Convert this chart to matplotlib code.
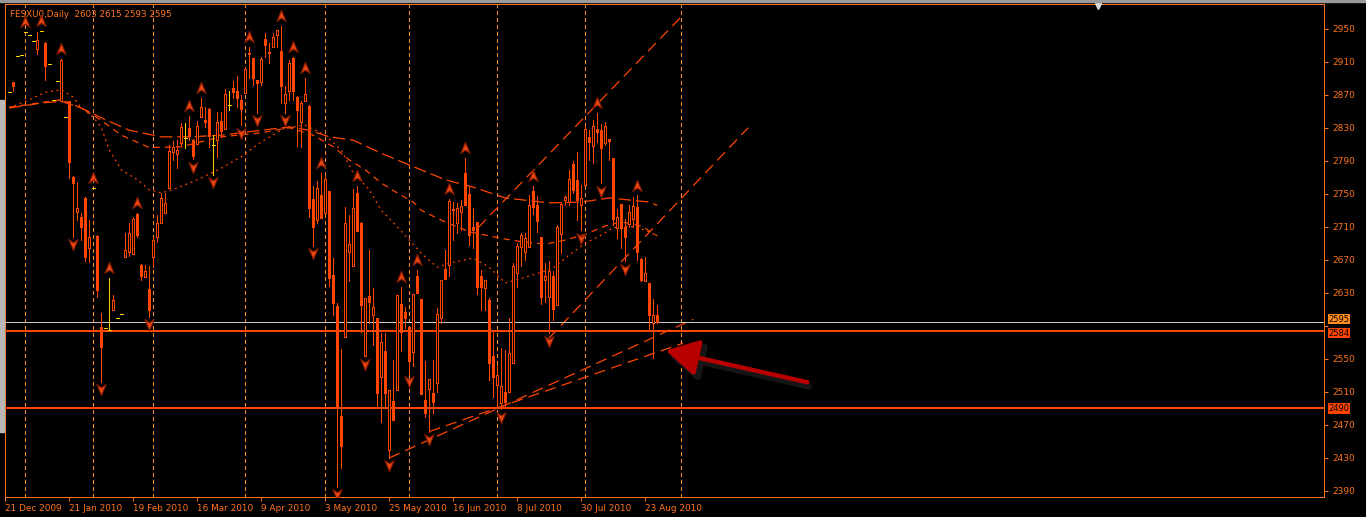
import matplotlib
matplotlib.use('Agg')
import matplotlib.pyplot as plt
import matplotlib.transforms as mtransforms
from matplotlib.path import Path
from matplotlib.patches import Rectangle
import numpy as np

# daily bars FESXU0 (bar 1 .. 163)
opens = [2873, 2885, 2917, 2918, 2946, 2942, 2935, 2925, 2947, 2933,
         2907, 2864, 2887, 2862, 2843, 2862, 2770, 2728, 2722, 2745,
         2684, 2757, 2699, 2589, 2587, 2585, 2609, 2600, 2604, 2673,
         2680, 2677, 2726, 2664, 2649, 2635, 2673, 2698, 2715, 2727,
         2757, 2801, 2798, 2812, 2818, 2830, 2815, 2810, 2843, 2839,
         2853, 2809, 2815, 2838, 2828, 2858, 2878, 2875, 2864, 2872,
         2921, 2914, 2888, 2886, 2937, 2922, 2928, 2942, 2923, 2860,
         2875, 2914, 2867, 2837, 2863, 2856, 2744, 2718, 2749, 2727,
         2753, 2652, 2614, 2481, 2577, 2680, 2663, 2751, 2715, 2553,
         2626, 2603, 2600, 2528, 2559, 2440, 2499, 2512, 2617, 2607,
         2589, 2558, 2650, 2623, 2500, 2514, 2509, 2521, 2600, 2659,
         2664, 2732, 2715, 2728, 2775, 2750, 2710, 2716, 2650, 2636,
         2621, 2553, 2518, 2497, 2510, 2510, 2545, 2654, 2686, 2680,
         2686, 2753, 2736, 2698, 2645, 2625, 2650, 2615, 2701, 2743,
         2740, 2786, 2767, 2736, 2761, 2819, 2808, 2829, 2827, 2811,
         2816, 2793, 2709, 2738, 2710, 2714, 2720, 2734, 2671, 2644,
         2642, 2594, 2603]
highs = [2873, 2885, 2917, 2918, 2946, 2942, 2935, 2946, 2947, 2934,
         2907, 2864, 2887, 2913, 2843, 2862, 2771, 2764, 2727, 2746,
         2718, 2757, 2700, 2606, 2587, 2648, 2627, 2600, 2604, 2703,
         2715, 2722, 2727, 2665, 2664, 2663, 2698, 2724, 2751, 2751,
         2809, 2814, 2815, 2836, 2836, 2844, 2816, 2838, 2866, 2855,
         2854, 2821, 2849, 2849, 2877, 2875, 2887, 2893, 2870, 2904,
         2928, 2914, 2888, 2916, 2945, 2933, 2945, 2949, 2953, 2881,
         2912, 2916, 2868, 2863, 2890, 2857, 2759, 2765, 2775, 2771,
         2753, 2672, 2618, 2562, 2734, 2724, 2756, 2760, 2716, 2624,
         2682, 2636, 2600, 2581, 2581, 2512, 2549, 2627, 2637, 2613,
         2589, 2629, 2658, 2623, 2547, 2526, 2549, 2612, 2645, 2682,
         2744, 2740, 2739, 2743, 2793, 2759, 2733, 2716, 2658, 2646,
         2624, 2585, 2543, 2563, 2561, 2600, 2666, 2691, 2703, 2703,
         2749, 2759, 2747, 2698, 2666, 2668, 2656, 2712, 2740, 2747,
         2779, 2790, 2801, 2761, 2831, 2827, 2839, 2848, 2835, 2837,
         2816, 2793, 2732, 2738, 2720, 2736, 2746, 2748, 2672, 2674,
         2642, 2622, 2615]
lows = [2873, 2874, 2917, 2918, 2946, 2942, 2935, 2919, 2947, 2888,
        2907, 2864, 2887, 2862, 2843, 2769, 2698, 2718, 2694, 2669,
        2667, 2757, 2625, 2522, 2587, 2585, 2609, 2600, 2604, 2673,
        2675, 2677, 2698, 2646, 2649, 2601, 2661, 2692, 2715, 2727,
        2757, 2791, 2781, 2809, 2806, 2815, 2792, 2810, 2843, 2831,
        2807, 2773, 2795, 2819, 2828, 2852, 2866, 2855, 2833, 2872,
        2890, 2882, 2848, 2882, 2916, 2908, 2928, 2928, 2860, 2848,
        2864, 2864, 2808, 2807, 2862, 2722, 2687, 2715, 2721, 2727,
        2638, 2603, 2395, 2418, 2577, 2644, 2663, 2705, 2583, 2553,
        2594, 2567, 2492, 2473, 2492, 2430, 2476, 2512, 2559, 2587,
        2532, 2541, 2630, 2508, 2480, 2462, 2485, 2510, 2593, 2647,
        2650, 2694, 2703, 2706, 2736, 2688, 2684, 2629, 2609, 2609,
        2524, 2504, 2492, 2489, 2492, 2510, 2545, 2637, 2662, 2670,
        2686, 2726, 2704, 2617, 2619, 2581, 2597, 2615, 2678, 2736,
        2736, 2751, 2718, 2706, 2761, 2791, 2787, 2813, 2763, 2809,
        2791, 2712, 2696, 2684, 2668, 2710, 2710, 2670, 2644, 2644,
        2585, 2551, 2593]
closes = [2873, 2881, 2917, 2918, 2946, 2942, 2935, 2936, 2947, 2905,
          2907, 2864, 2887, 2912, 2843, 2789, 2763, 2733, 2710, 2674,
          2698, 2757, 2633, 2564, 2587, 2585, 2621, 2600, 2604, 2682,
          2703, 2719, 2700, 2650, 2657, 2609, 2694, 2715, 2745, 2739,
          2802, 2807, 2803, 2831, 2818, 2820, 2796, 2832, 2855, 2837,
          2820, 2809, 2837, 2826, 2871, 2858, 2873, 2866, 2853, 2901,
          2919, 2890, 2884, 2913, 2930, 2920, 2940, 2948, 2881, 2871,
          2909, 2875, 2851, 2860, 2871, 2733, 2710, 2757, 2721, 2768,
          2648, 2618, 2492, 2444, 2715, 2689, 2733, 2705, 2615, 2624,
          2619, 2613, 2509, 2570, 2509, 2512, 2476, 2627, 2583, 2600,
          2548, 2629, 2630, 2508, 2485, 2526, 2498, 2604, 2645, 2647,
          2741, 2730, 2733, 2735, 2736, 2700, 2706, 2637, 2637, 2646,
          2545, 2528, 2530, 2517, 2498, 2557, 2662, 2687, 2700, 2697,
          2736, 2734, 2717, 2625, 2650, 2656, 2611, 2710, 2738, 2746,
          2768, 2755, 2743, 2745, 2828, 2813, 2832, 2825, 2805, 2832,
          2814, 2719, 2722, 2708, 2698, 2728, 2735, 2679, 2645, 2654,
          2603, 2603, 2595]

# moving averages (bar, value)
ma_slow_bars = [1, 9, 14, 19, 24, 31, 39, 46, 54, 64, 71, 76, 81, 87, 94, 100,
                110, 117, 125, 136, 144, 151, 161, 163]
ma_slow = [2854, 2860, 2862, 2854, 2842, 2827, 2819, 2819, 2821, 2827, 2831,
           2827, 2819, 2815, 2799, 2787, 2767, 2758, 2745, 2739, 2740, 2745,
           2740, 2736]
ma_mid_bars = [1, 14, 19, 24, 29, 36, 44, 54, 64, 71, 77, 82, 86, 90, 94, 98,
               102, 104, 109, 116, 124, 129, 135, 140, 145, 150, 154, 159, 163]
ma_mid = [2855, 2864, 2854, 2839, 2821, 2806, 2807, 2819, 2824, 2830, 2821,
          2807, 2791, 2779, 2763, 2751, 2740, 2730, 2718, 2704, 2696, 2692,
          2689, 2694, 2701, 2711, 2716, 2711, 2699]
ma_fast_bars = [1, 6, 10, 14, 17, 19, 22, 24, 26, 29, 33, 36, 39, 43, 48, 54,
                59, 64, 70, 75, 80, 84, 87, 91, 94, 98, 101, 104, 108, 111,
                117, 121, 125, 128, 134, 137, 141, 145, 149, 152, 156, 160, 163]
ma_fast = [2854, 2864, 2873, 2876, 2867, 2854, 2843, 2830, 2803, 2779, 2767,
           2755, 2751, 2757, 2767, 2781, 2795, 2813, 2830, 2833, 2821, 2803,
           2775, 2755, 2730, 2710, 2694, 2678, 2661, 2666, 2672, 2661, 2642,
           2646, 2655, 2660, 2676, 2690, 2700, 2709, 2711, 2706, 2699]

# fractal arrows
fractal_up = [5, 9, 14, 22, 26, 33, 46, 49, 61, 69, 72, 75, 79, 88, 99, 103,
              111, 115, 132, 148, 158]
fractal_down = [17, 24, 36, 47, 52, 59, 63, 70, 77, 83, 90, 96, 101, 106, 124,
                136, 144, 149, 155]

# trend lines (bar, price) pairs
trend_lines = [((96, 2430), (172, 2598)),
               ((106, 2462), (169.4, 2569)),
               ((118.2, 2709), (168.7, 2963)),
               ((135.9, 2575), (185.7, 2830))]

levels = [2584, 2490]
bid_level = 2595
month_bars = [5, 22, 37, 60, 80, 101, 123, 145, 169]
date_bars = [0, 16, 32, 48, 64, 80, 96, 112, 128, 144, 160]
date_labels = ['21 Dec 2009', '21 Jan 2010', '19 Feb 2010', '16 Mar 2010',
               '9 Apr 2010', '3 May 2010', '25 May 2010', '16 Jun 2010',
               '8 Jul 2010', '30 Jul 2010', '23 Aug 2010']
price_ticks = list(range(2390, 2951, 40))

CANDLE = '#ff4500'
FG = '#ff7420'
YELLOW = '#ffd000'
PX = 0.72  # one pixel in points
plt.rcParams['font.family'] = ['DejaVu Sans']

o = np.array(opens, float)
h = np.array(highs, float)
l = np.array(lows, float)
c = np.array(closes, float)
x = np.arange(1, len(o) + 1)

fig = plt.figure(figsize=(13.66, 5.17), dpi=100, facecolor='black')
ax = fig.add_axes([5 / 1366, 20 / 517, 1319 / 1366, 493 / 517], facecolor='black')
ax.set_xlim(-0.075, 329.675)
ax.set_ylim(2382.7, 2979.95)

# month separators
for b in month_bars:
    ax.axvline(b, color='#ff8a2a', lw=PX, ls=(0, (4, 4)), zorder=1,
               antialiased=False)

# moving averages
ax.plot(ma_slow_bars, ma_slow, color=CANDLE, lw=0.9, ls=(0, (10, 4)), zorder=2)
ax.plot(ma_mid_bars, ma_mid, color=CANDLE, lw=0.9, ls=(0, (5, 4)), zorder=2)
ax.plot(ma_fast_bars, ma_fast, color=CANDLE, lw=0.9, ls=(0, (1.5, 3)), zorder=2)

# trend lines
for (x0, y0), (x1, y1) in trend_lines:
    ax.plot([x0, x1], [y0, y1], color=CANDLE, lw=0.9, ls=(0, (9, 5)), zorder=2)

# horizontal levels
ax.axhline(bid_level, color='#c8c8c8', lw=PX, zorder=3, antialiased=False)
for lv in levels:
    ax.axhline(lv, color=CANDLE, lw=2 * PX, zorder=3, antialiased=False)

# candles
flat = c == o
up = c > o
dn = c < o
ax.vlines(x[~flat], l[~flat], h[~flat], color=CANDLE, lw=PX, zorder=4,
          antialiased=False)
ax.vlines(x[flat], l[flat], h[flat], color=YELLOW, lw=PX, zorder=4,
          antialiased=False)
ax.hlines(o[flat], x[flat] - 0.4, x[flat] + 0.4, color=YELLOW, lw=PX, zorder=5,
          antialiased=False)
ax.bar(x[up], c[up] - o[up], bottom=o[up], width=0.55, facecolor='black',
       edgecolor=CANDLE, linewidth=PX, zorder=5, antialiased=False)
ax.bar(x[dn], o[dn] - c[dn], bottom=c[dn], width=0.55, facecolor=CANDLE,
       edgecolor=CANDLE, linewidth=PX, zorder=5, antialiased=False)

# fractal arrows
arrow_up = Path([(0, 1), (0.75, -0.8), (0, -0.3), (-0.75, -0.8), (0, 1)],
                [Path.MOVETO, Path.LINETO, Path.LINETO, Path.LINETO, Path.CLOSEPOLY])
arrow_dn = Path([(0, -1), (0.75, 0.8), (0, 0.3), (-0.75, 0.8), (0, -1)],
                [Path.MOVETO, Path.LINETO, Path.LINETO, Path.LINETO, Path.CLOSEPOLY])
fu = np.array(fractal_up) - 1
fd = np.array(fractal_down) - 1
ax.plot(x[fu], h[fu] + 12, ls='none', marker=arrow_up, ms=9,
        mfc='#e84410', mec='#7a1800', mew=0.8, zorder=6)
ax.plot(x[fd], l[fd] - 9, ls='none', marker=arrow_dn, ms=9,
        mfc='#e84410', mec='#7a1800', mew=0.8, zorder=6)

# annotation arrow with soft shadow
ax.annotate('', xy=(165.0, 2556), xytext=(201.5, 2516),
            arrowprops=dict(arrowstyle='-|>,head_length=0.9,head_width=0.5',
                            lw=4.5, color='#161616', mutation_scale=22), zorder=6)
ax.annotate('', xy=(164.4, 2561), xytext=(201.2, 2521),
            arrowprops=dict(arrowstyle='-|>,head_length=0.9,head_width=0.5',
                            lw=3.2, color='#b80000', mutation_scale=22), zorder=7)

# axes styling
for s in ax.spines.values():
    s.set_color(FG)
    s.set_linewidth(PX)
ax.yaxis.tick_right()
ax.set_yticks(price_ticks)
# the 2590 label sits under the price boxes, so it is left blank
ax.set_yticklabels(['' if p == 2590 else str(p) for p in price_ticks])
ax.tick_params(axis='y', colors=FG, labelcolor=FG, length=3, width=PX,
               labelsize=6.5, pad=3)
ax.set_xticks(date_bars)
ax.set_xticklabels(date_labels, ha='left')
ax.tick_params(axis='x', colors=FG, labelcolor=FG, length=3, width=PX,
               labelsize=6.4, pad=2)

# price boxes on the right scale
tr = mtransforms.blended_transform_factory(ax.transAxes, ax.transData)
ax.text(1.0035, bid_level + 3.0, str(bid_level), transform=tr, fontsize=6,
        color='black', va='center', ha='left',
        bbox=dict(facecolor='#ff8c1a', edgecolor='none', pad=0.5), zorder=8)
ax.text(1.0035, levels[0] - 3.0, str(levels[0]), transform=tr, fontsize=6,
        color='black', va='center', ha='left',
        bbox=dict(facecolor=CANDLE, edgecolor='none', pad=0.5), zorder=8)
ax.text(1.0035, levels[1], str(levels[1]), transform=tr, fontsize=6,
        color='black', va='center', ha='left',
        bbox=dict(facecolor=CANDLE, edgecolor='none', pad=0.5), zorder=8)

# header
ax.text(0.004, 0.988, 'FESXU0,Daily  %d %d %d %d' % (o[-1], h[-1], l[-1], c[-1]),
        transform=ax.transAxes, fontsize=6.3, color=FG, va='top', ha='left')

# chart shift marker
ax.plot([0.8285], [0.995], transform=ax.transAxes, marker='v', ms=5,
        color='#d8d8d8', clip_on=False, zorder=9)

# window chrome
fig.patches.append(Rectangle((0, 85 / 517), 4 / 1366, 332 / 517,
                             transform=fig.transFigure, color='#b8b8b8'))
fig.patches.append(Rectangle((0, 515 / 517), 1, 2 / 517,
                             transform=fig.transFigure, color='#9a9a9a'))

fig.savefig('out.png', dpi=100, facecolor='black')
